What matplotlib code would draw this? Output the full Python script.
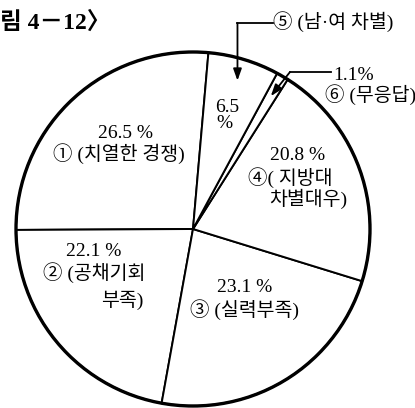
import matplotlib.pyplot as plt

plt.rcParams['font.family'] = ['Liberation Serif', 'Noto Sans CJK KR']

# 응답 항목, pie order (counter-clockwise from the top)
marks = ['①', '②', '③', '④', '⑥', '⑤']
reasons = ['치열한 경쟁', '공채기회 부족', '실력부족', '지방대 차별대우', '무응답', '남·여 차별']
shares = [26.5, 22.1, 23.1, 20.8, 1.1, 6.5]

W, H = 415, 408
R = 177.0          # pie radius in pixels
CX, CY = 193, 229  # pie centre in pixels


def px(x, y):
    # pixel position (from top-left) -> data coords of the pie axes
    return (x - CX) / R, (CY - y) / R


fig = plt.figure(figsize=(W / 100, H / 100), dpi=100)
ax = fig.add_axes([0, 0, 1, 1])

wedges, _ = ax.pie(shares, startangle=85, counterclock=True,
                   colors=['white'] * len(shares),
                   wedgeprops=dict(edgecolor='black', linewidth=1.4))
ax.add_patch(plt.Circle((0, 0), 1, fill=False, lw=2.4, color='black'))
ax.set_xlim(-CX / R, (W - CX) / R)
ax.set_ylim(-(H - CY) / R, CY / R)
ax.set_aspect('equal')
ax.axis('off')

fs = 14
kw = dict(fontsize=fs, ha='center', va='center', color='black')

# ① 치열한 경쟁
ax.text(*px(125, 134), f'{shares[0]} %', **kw)
ax.text(*px(119, 154), f'{marks[0]} ({reasons[0]})', **kw)
# ② 공채기회 부족
ax.text(*px(94, 251), f'{shares[1]} %', **kw)
ax.text(*px(94, 273), f'{marks[1]} (공채기회', **kw)
ax.text(*px(122, 300), '부족)', **kw)
# ③ 실력부족
ax.text(*px(245, 287), f'{shares[2]} %', **kw)
ax.text(*px(244, 310), f'{marks[2]} ({reasons[2]})', **kw)
# ④ 지방대 차별대우
ax.text(*px(298, 155), f'{shares[3]} %', **kw)
ax.text(*px(290, 178), f'{marks[3]}( 지방대', **kw)
ax.text(*px(308, 199), '차별대우)', **kw)
# ⑤ 남·여 차별 (inside value + callout)
ax.text(*px(227, 107), f'{shares[5]}', **kw)
ax.text(*px(224, 124), '%', **kw)

arrow = dict(arrowstyle='-|>,head_length=0.7,head_width=0.25', lw=1.3,
             color='black', shrinkA=0, shrinkB=0)


def mid_point(w, r):
    import math
    a = math.radians((w.theta1 + w.theta2) / 2)
    return r * math.cos(a), r * math.sin(a)


tip5 = mid_point(wedges[5], 0.875)
y5 = px(0, 23)[1]
ax.plot([tip5[0], px(273, 0)[0]], [y5, y5], color='black', lw=1.3)
ax.annotate('', xy=tip5, xytext=(tip5[0], y5), arrowprops=arrow)
ax.text(*px(273, 22), f'{marks[5]} ({reasons[5]})', fontsize=fs,
        ha='left', va='center')

# ⑥ 무응답 callout
tip6 = mid_point(wedges[4], 0.87)
c6 = px(290, 72)
ax.plot([c6[0], px(331, 0)[0]], [c6[1], c6[1]], color='black', lw=1.3)
ax.annotate('', xy=tip6, xytext=c6, arrowprops=arrow)
ax.text(*px(333, 75), f'{shares[4]}%', fontsize=fs, ha='left', va='center')
ax.text(*px(325, 95), f'{marks[4]} ({reasons[4]})', fontsize=fs,
        ha='left', va='center')

# figure number (cropped in the scan)
ax.text(*px(0, 23), '림 4－12〉', fontsize=17, fontweight='bold',
        ha='left', va='center')

fig.savefig('out.png', dpi=100, facecolor='white')
